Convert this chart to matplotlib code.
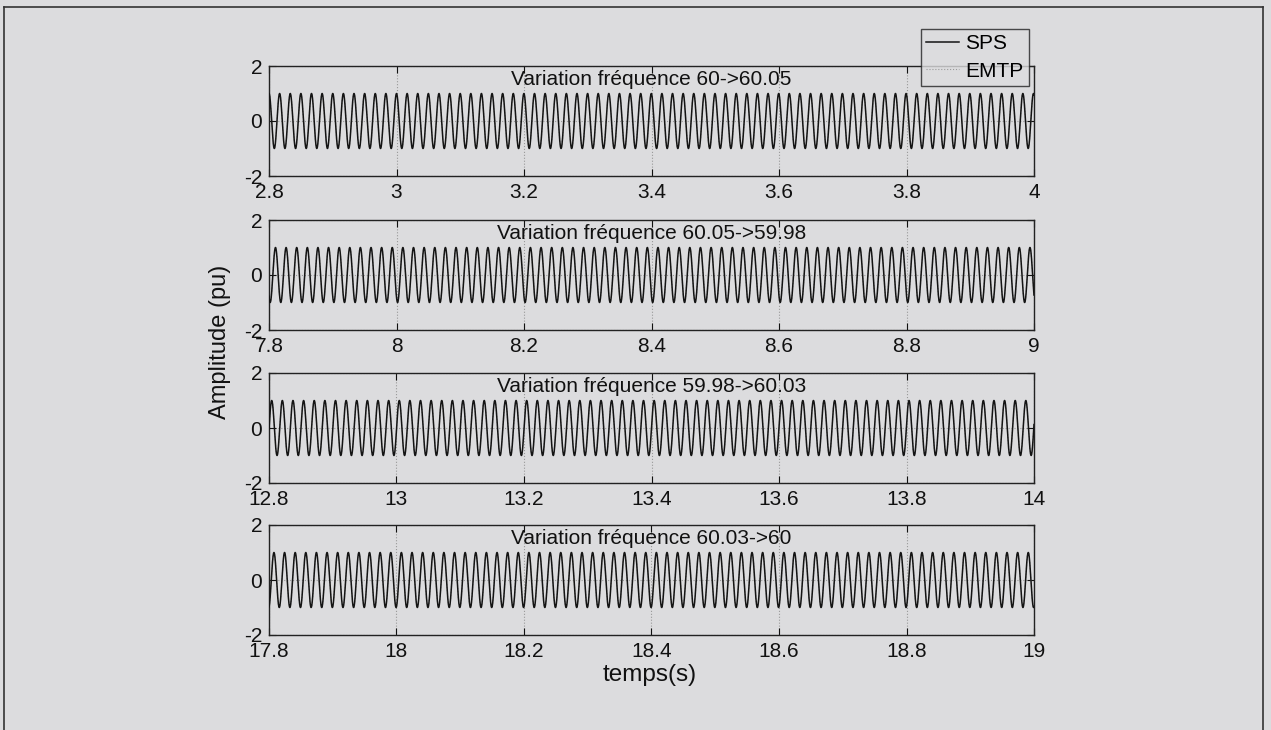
import numpy as np
import matplotlib.pyplot as plt
from matplotlib.lines import Line2D

plt.rcParams['font.family'] = ['Liberation Sans', 'DejaVu Sans']

# time windows shown in each panel (s)
t_start = [2.8, 7.8, 12.8, 17.8]
t_end = [4.0, 9.0, 14.0, 19.0]
# instant of the frequency step in each window (s)
t_step = [3.0, 8.0, 13.0, 18.0]
# frequency before / after each step (Hz)
f_before = [60.0, 60.05, 59.98, 60.03]
f_after = [60.05, 59.98, 60.03, 60.0]
amplitude = 1.0
x_ticks = [[2.8, 3, 3.2, 3.4, 3.6, 3.8, 4],
           [7.8, 8, 8.2, 8.4, 8.6, 8.8, 9],
           [12.8, 13, 13.2, 13.4, 13.6, 13.8, 14],
           [17.8, 18, 18.2, 18.4, 18.6, 18.8, 19]]
x_ticklabels = [['2.8', '3', '3.2', '3.4', '3.6', '3.8', '4'],
                ['7.8', '8', '8.2', '8.4', '8.6', '8.8', '9'],
                ['12.8', '13', '13.2', '13.4', '13.6', '13.8', '14'],
                ['17.8', '18', '18.2', '18.4', '18.6', '18.8', '19']]

bg = '#dcdcde'
W, H = 1271, 730
fig = plt.figure(figsize=(W / 100, H / 100), dpi=100, facecolor=bg)

# outer frame of the page
for xs, ys in [([4, 4], [7, H]), ([4, 1263], [7, 7]), ([1263, 1263], [7, H])]:
    fig.add_artist(Line2D([x / W for x in xs], [1 - y / H for y in ys],
                          color='#333333', lw=1.2))

left, right = 269, 1034
tops = [66, 220, 373, 525]
height = 110

for i in range(4):
    ax = fig.add_axes([left / W, 1 - (tops[i] + height) / H,
                       (right - left) / W, height / H])
    ax.set_facecolor(bg)
    t = np.linspace(t_start[i], t_end[i], 8000)
    phase = np.where(t < t_step[i],
                     f_before[i] * t,
                     f_before[i] * t_step[i] + f_after[i] * (t - t_step[i]))
    y = amplitude * np.cos(2 * np.pi * phase)
    l1, = ax.plot(t, y, color='#141414', lw=1.1, label='SPS', zorder=3)
    l2, = ax.plot(t, y, color='#9a9a9a', lw=0.8, ls=':', label='EMTP', zorder=2)
    ax.set_xlim(t_start[i], t_end[i])
    ax.set_ylim(-2, 2)
    ax.set_xticks(x_ticks[i])
    ax.set_xticklabels(x_ticklabels[i])
    ax.set_yticks([-2, 0, 2])
    ax.set_yticklabels(['-2', '0', '2'])
    ax.tick_params(direction='in', top=True, right=True, length=5,
                   width=0.8, labelsize=15, pad=5, colors='#111111')
    ax.grid(True, color='#999999', ls=':', lw=0.8)
    for s in ax.spines.values():
        s.set_color('#222222')
        s.set_linewidth(1.0)
    ax.text(0.5, 0.96, 'Variation fréquence %g->%g' % (f_before[i], f_after[i]),
            transform=ax.transAxes, ha='center', va='top', fontsize=15,
            color='#111111', zorder=4)
    if i == 0:
        handles = [l1, l2]

leg = fig.legend(handles, ['SPS', 'EMTP'], loc='upper right',
                 bbox_to_anchor=(1029 / W, 1 - 29 / H), fontsize=15,
                 frameon=True, fancybox=False, handlelength=1.6,
                 handletextpad=0.3, borderpad=0.25, labelspacing=0.4,
                 borderaxespad=0)
leg.get_frame().set_facecolor(bg)
leg.get_frame().set_edgecolor('#222222')
leg.get_frame().set_linewidth(1.0)

fig.text(220 / W, 1 - 342 / H, 'Amplitude (pu)', rotation=90, ha='center',
         va='center', fontsize=17, color='#111111')
fig.text(650 / W, 1 - 675 / H, 'temps(s)', ha='center', va='center',
         fontsize=17.5, color='#111111')

fig.savefig('out.png', dpi=100, facecolor=bg)
